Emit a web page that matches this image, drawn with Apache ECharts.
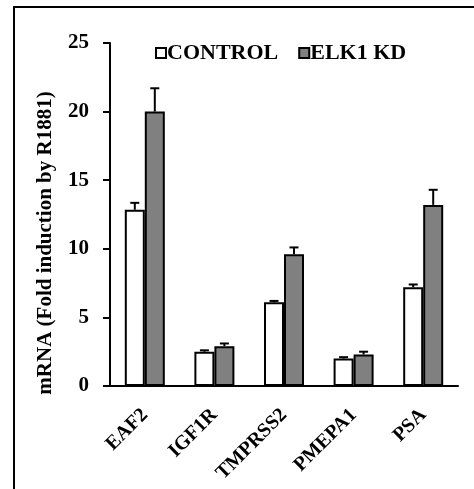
<!DOCTYPE html>
<html>
<head>
<meta charset="utf-8">
<script src="https://cdn.jsdelivr.net/npm/echarts@6/dist/echarts.min.js"></script>
<style>
  html, body { margin: 0; padding: 0; background: #fff; }
  #chart { width: 474px; height: 489px; }
</style>
</head>
<body>
<div id="chart"></div>
<script>
const genes = ['EAF2', 'IGF1R', 'TMPRSS2', 'PMEPA1', 'PSA']
const control = [12.85, 2.5, 6.1, 2.0, 7.2]
const controlErr = [0.5, 0.1, 0.1, 0.1, 0.2]
const elk1kd = [20.0, 2.9, 9.6, 2.3, 13.2]
const elk1kdErr = [1.7, 0.2, 0.5, 0.2, 1.1]
const yTicks = [0, 5, 10, 15, 20, 25]

const serif = '"Liberation Serif", "Times New Roman", serif'
const chart = echarts.init(document.getElementById('chart'))

const barW = 20

// upper error bar with a cap, shifted onto its bar
function errorBar(shift) {
  return function (params, api) {
    const base = api.coord([api.value(0), api.value(1)])
    const top = api.coord([api.value(0), api.value(1) + api.value(2)])
    const x = base[0] + shift
    const style = { stroke: '#000', lineWidth: 2 }
    return {
      type: 'group',
      children: [
        { type: 'line', shape: { x1: x, y1: base[1], x2: x, y2: top[1] }, style: style },
        { type: 'line', shape: { x1: x - 4.5, y1: top[1], x2: x + 4.5, y2: top[1] }, style: style }
      ]
    }
  }
}

chart.setOption({
  animation: false,
  graphic: [
    {
      type: 'rect',
      shape: { x: 14, y: 7, width: 480, height: 500 },
      style: { fill: 'none', stroke: '#000', lineWidth: 2 },
      silent: true
    },
    {
      // y axis title, sits a bit below the plot centre like the original
      type: 'text',
      x: 46,
      y: 243,
      rotation: Math.PI / 2,
      style: {
        text: 'mRNA (Fold induction by R1881)',
        fontFamily: serif,
        fontWeight: 'bold',
        fontSize: 21,
        fill: '#000',
        align: 'center',
        verticalAlign: 'middle'
      }
    }
  ],
  legend: {
    top: 37,
    left: 150,
    itemWidth: 10,
    itemHeight: 10,
    itemGap: 20,
    icon: 'rect',
    textStyle: {
      fontFamily: serif, fontWeight: 'bold', fontSize: 22, color: '#000',
      padding: [0, 0, 0, -4]
    },
    data: ['CONTROL', 'ELK1 KD']
  },
  grid: { left: 110, right: 16, top: 43, bottom: 103 },
  xAxis: {
    type: 'category',
    data: genes,
    axisLine: { lineStyle: { color: '#000', width: 2 } },
    axisTick: { length: 7, lineStyle: { color: '#000', width: 2 } },
    axisLabel: {
      rotate: 45,
      margin: 26,
      padding: [0, 0, 0, 0],
      fontFamily: serif,
      fontWeight: 'bold',
      fontSize: 20,
      color: '#000'
    }
  },
  yAxis: {
    type: 'value',
    min: yTicks[0],
    max: yTicks[yTicks.length - 1],
    interval: 5,
    axisLine: { show: true, lineStyle: { color: '#000', width: 2 } },
    axisTick: { show: true, length: 7, lineStyle: { color: '#000', width: 2 } },
    splitLine: { show: false },
    axisLabel: {
      margin: 21,
      fontFamily: serif,
      fontWeight: 'bold',
      fontSize: 21,
      color: '#000'
    }
  },
  series: [
    {
      name: 'CONTROL',
      type: 'bar',
      data: control,
      barWidth: barW,
      barGap: '0%',
      itemStyle: { color: '#fff', borderColor: '#000', borderWidth: 2 }
    },
    {
      name: 'ELK1 KD',
      type: 'bar',
      data: elk1kd,
      barWidth: barW,
      barGap: '0%',
      itemStyle: { color: '#808080', borderColor: '#000', borderWidth: 2 }
    },
    {
      type: 'custom',
      renderItem: errorBar(-barW / 2),
      data: control.map((v, i) => [i, v, controlErr[i]]),
      z: 10
    },
    {
      type: 'custom',
      renderItem: errorBar(barW / 2),
      data: elk1kd.map((v, i) => [i, v, elk1kdErr[i]]),
      z: 10
    }
  ]
})
</script>
</body>
</html>
